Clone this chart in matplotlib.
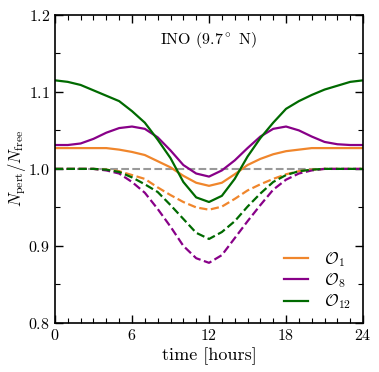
import numpy as np
import matplotlib
matplotlib.use("Agg")
import matplotlib.pyplot as plt
from matplotlib.ticker import MultipleLocator

plt.rcParams['font.family'] = 'cmr10'
plt.rcParams['mathtext.fontset'] = 'cm'
plt.rcParams['axes.formatter.use_mathtext'] = True

# valores (hora 0..24)
horas = np.arange(0, 25)

o1 = [1.027, 1.027, 1.027, 1.027, 1.027, 1.025, 1.022, 1.018, 1.010, 1.002, 0.991, 0.982, 0.978,
      0.982, 0.993, 1.005, 1.013, 1.019, 1.023, 1.025, 1.027, 1.027, 1.027, 1.027, 1.027]
o8 = [1.031, 1.031, 1.033, 1.039, 1.047, 1.053, 1.055, 1.052, 1.041, 1.024, 1.005, 0.994, 0.990,
      0.998, 1.011, 1.027, 1.042, 1.052, 1.055, 1.050, 1.042, 1.035, 1.032, 1.031, 1.031]
o12 = [1.115, 1.113, 1.109, 1.102, 1.095, 1.088, 1.075, 1.060, 1.038, 1.014, 0.983, 0.963, 0.957,
       0.965, 0.987, 1.016, 1.040, 1.060, 1.078, 1.088, 1.096, 1.103, 1.108, 1.113, 1.115]

o1_nc = [1.0, 1.0, 1.0, 1.0, 0.999, 0.997, 0.992, 0.987, 0.976, 0.966, 0.957, 0.950, 0.947,
         0.951, 0.961, 0.972, 0.980, 0.987, 0.993, 0.997, 0.999, 1.0, 1.0, 1.0, 1.0]
o8_nc = [1.0, 1.0, 1.0, 1.0, 0.998, 0.994, 0.983, 0.969, 0.948, 0.925, 0.900, 0.884, 0.878,
         0.888, 0.910, 0.932, 0.953, 0.973, 0.986, 0.994, 0.998, 1.0, 1.0, 1.0, 1.0]
o12_nc = [1.0, 1.0, 1.0, 1.0, 0.999, 0.996, 0.989, 0.980, 0.970, 0.953, 0.935, 0.917, 0.909,
          0.918, 0.932, 0.951, 0.968, 0.983, 0.992, 0.997, 0.999, 1.0, 1.0, 1.0, 1.0]

c_o1 = '#f0862c'
c_o8 = '#880088'
c_o12 = '#006a00'

fig = plt.figure(figsize=(3.79, 3.72), dpi=100)
ax = fig.add_axes([0.145, 0.132, 0.813, 0.828])

ax.axhline(1.0, color='#999999', ls='--', lw=1.5, zorder=1)

ax.plot(horas, o1, color=c_o1, lw=1.6, label=r'$\mathcal{O}_1$')
ax.plot(horas, o8, color=c_o8, lw=1.6, label=r'$\mathcal{O}_8$')
ax.plot(horas, o12, color=c_o12, lw=1.6, label=r'$\mathcal{O}_{12}$')
ax.plot(horas, o1_nc, color=c_o1, lw=1.6, ls='--')
ax.plot(horas, o8_nc, color=c_o8, lw=1.6, ls='--')
ax.plot(horas, o12_nc, color=c_o12, lw=1.6, ls='--')

ax.set_xlim(0, 24)
ax.set_ylim(0.8, 1.2)
ax.xaxis.set_major_locator(MultipleLocator(6))
ax.xaxis.set_minor_locator(MultipleLocator(1))
ax.yaxis.set_major_locator(MultipleLocator(0.1))
ax.yaxis.set_minor_locator(MultipleLocator(0.05))
ax.tick_params(which='both', direction='in', top=True, right=True, labelsize=11.5)
ax.tick_params(which='major', length=6, width=1)
ax.tick_params(which='minor', length=3.5, width=0.8)
for s in ax.spines.values():
    s.set_linewidth(1.2)

ax.set_xlabel('time [hours]', fontsize=13, labelpad=3)
ax.set_ylabel(r'$N_{\rm pert}/N_{\rm free}$', fontsize=12, labelpad=0)
ax.text(0.5, 0.917, r'INO (9.7$^\circ$ N)', transform=ax.transAxes, ha='center', va='center', fontsize=11.5)

ax.legend(loc='lower right', frameon=False, fontsize=12, handlelength=1.4, handletextpad=1.0,
          labelspacing=0.15, borderaxespad=0.3)

fig.savefig('out.png', dpi=100)
